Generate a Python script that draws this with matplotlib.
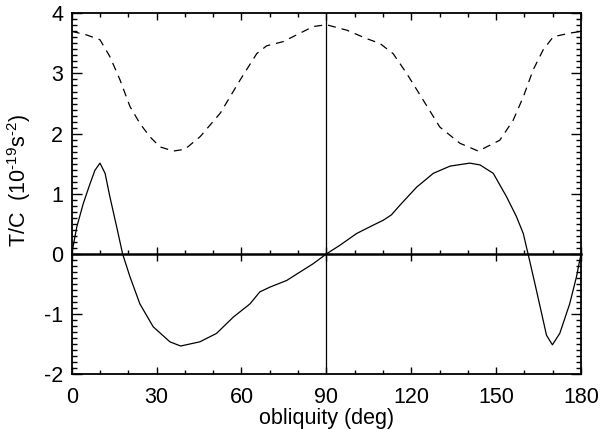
import matplotlib
matplotlib.use("Agg")
import matplotlib.pyplot as plt
from matplotlib.ticker import MultipleLocator

plt.rcParams['font.family'] = ['Liberation Sans', 'DejaVu Sans']
plt.rcParams['mathtext.fontset'] = 'custom'
plt.rcParams['mathtext.rm'] = 'Liberation Sans'
plt.rcParams['mathtext.it'] = 'Liberation Sans'
plt.rcParams['axes.unicode_minus'] = False

# dashed curve (upper)
obl_dash = [0, 5.3, 10, 13.5, 17.1, 20.6, 24.1, 27.6, 31.2, 35.9, 40, 45.4, 52.5, 59.5,
            65.4, 68.9, 74.8, 80.7, 85.4, 90, 97.2, 104.2, 108.9, 113.6, 118.4, 124.2,
            130.1, 137.2, 143.7, 151.3, 156, 159.6, 163.1, 166.6, 170.2, 176, 180]
tc_dash = [3.70, 3.64, 3.56, 3.28, 2.89, 2.45, 2.17, 1.95, 1.78, 1.71, 1.74, 1.95, 2.34,
           2.89, 3.33, 3.46, 3.53, 3.67, 3.78, 3.81, 3.72, 3.58, 3.50, 3.33, 3.00, 2.56,
           2.11, 1.84, 1.71, 1.89, 2.22, 2.61, 3.06, 3.39, 3.61, 3.67, 3.70]

# solid curve
obl_solid = [0, 1.8, 4.1, 6.5, 8.2, 10, 11.8, 13.5, 15.9, 18, 20.6, 24.1, 28.8, 34.7,
             38.5, 45.3, 51.2, 57.1, 63, 66.5, 70.1, 76, 80.7, 85.4, 90, 94.8, 100.7,
             106.6, 110.1, 113, 116, 121.9, 127.8, 133.7, 140.7, 144.3, 149, 153.7,
             157.2, 159.6, 161.3, 163.7, 166.1, 167.8, 169.9, 172.5, 176, 178.4, 180]
tc_solid = [0.0, 0.45, 0.84, 1.17, 1.39, 1.51, 1.34, 0.95, 0.45, 0.0, -0.38, -0.83,
            -1.21, -1.46, -1.53, -1.46, -1.32, -1.05, -0.83, -0.63, -0.55, -0.44, -0.30,
            -0.16, 0.0, 0.145, 0.34, 0.48, 0.56, 0.65, 0.81, 1.11, 1.34, 1.46, 1.51, 1.48,
            1.34, 0.95, 0.62, 0.34, 0.0, -0.49, -0.99, -1.35, -1.51, -1.32, -0.83, -0.38, 0.0]

xticks = [0, 30, 60, 90, 120, 150, 180]
ymin, ymax = -2, 4


def main():
    fig = plt.figure(figsize=(6.01, 4.29), dpi=100)
    ax = fig.add_axes([0.1193, 0.1275, 0.8474, 0.8415])

    ax.plot(obl_dash, tc_dash, color='black', lw=0.9, dashes=(6.4, 4.8))
    ax.plot(obl_solid, tc_solid, color='black', lw=0.9)
    ax.axvline(90, color='black', lw=0.9)

    ax.set_xlim(0, 180)
    ax.set_ylim(ymin, ymax)
    ax.set_xticks(xticks)
    ax.xaxis.set_minor_locator(MultipleLocator(10))
    ax.yaxis.set_major_locator(MultipleLocator(1))
    ax.yaxis.set_minor_locator(MultipleLocator(0.1))

    ax.tick_params(axis='x', which='major', direction='in', length=5, width=1,
                   top=True, bottom=True, labelsize=15.5, pad=9)
    ax.tick_params(axis='x', which='minor', direction='in', length=3, width=1,
                   top=True, bottom=True)
    ax.tick_params(axis='y', which='major', direction='in', length=7.2, width=1,
                   left=True, right=True, labelsize=15.5, pad=6)
    ax.tick_params(axis='y', which='minor', direction='in', length=3.6, width=1,
                   left=True, right=True)
    for s in ax.spines.values():
        s.set_linewidth(1.3)

    # axis drawn through y = 0
    zero = ax.secondary_xaxis((0 - ymin) / (ymax - ymin))
    zero.set_xticks(xticks)
    zero.xaxis.set_minor_locator(MultipleLocator(10))
    zero.tick_params(axis='x', which='major', direction='inout', length=9.5, width=1,
                     labelbottom=False, labeltop=False)
    zero.tick_params(axis='x', which='minor', direction='in', length=3, width=1)
    for s in zero.spines.values():
        s.set_linewidth(1.8)

    ax.set_xlabel("obliquity (deg)", fontsize=15.5, labelpad=0)
    ax.set_ylabel(r"T/C  (10$^{\text{-19}}$s$^{\text{-2}}$)", fontsize=15.5)
    ax.yaxis.set_label_coords(-0.076, 0.538)

    fig.savefig("out.png", dpi=100)


if __name__ == '__main__':
    main()
